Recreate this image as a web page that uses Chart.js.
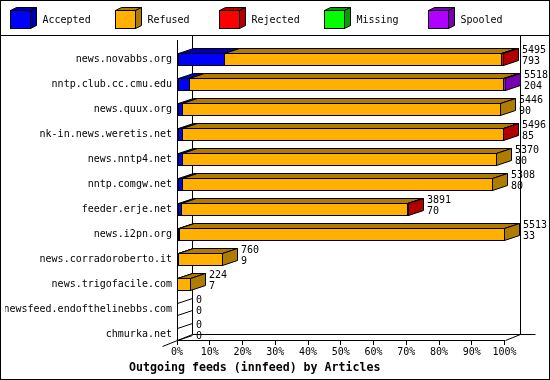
<!DOCTYPE html>
<html>
<head>
<meta charset="utf-8">
<script src="https://cdn.jsdelivr.net/npm/chart.js@4.4.1/dist/chart.umd.min.js"></script>
<style>
  html, body { margin: 0; padding: 0; background: #fff; }
  #wrap { width: 550px; height: 380px; }
</style>
</head>
<body>
<div id="wrap"><canvas id="feeds" width="550" height="380"></canvas></div>
<script>
// innfeed outgoing feeds, counted in articles
const hosts = [
    'news.novabbs.org', 'nntp.club.cc.cmu.edu', 'news.quux.org', 'nk-in.news.weretis.net',
    'news.nntp4.net', 'nntp.comgw.net', 'feeder.erje.net', 'news.i2pn.org',
    'news.corradoroberto.it', 'news.trigofacile.com', 'newsfeed.endofthelinebbs.com', 'chmurka.net'
];
const offered  = [5495, 5518, 5446, 5496, 5370, 5308, 3891, 5513, 760, 224, 0, 0];
const accepted = [793, 204, 90, 85, 80, 80, 70, 33, 9, 7, 0, 0];
const refused  = [4662, 5284, 5356, 5401, 5290, 5228, 3811, 5480, 751, 217, 0, 0];
const rejected = [40, 0, 0, 10, 0, 0, 10, 0, 0, 0, 0, 0];
const missing  = [0, 0, 0, 0, 0, 0, 0, 0, 0, 0, 0, 0];
const spooled  = [0, 30, 0, 0, 0, 0, 0, 0, 0, 0, 0, 0];
const seriesNames = ['Accepted', 'Refused', 'Rejected', 'Missing', 'Spooled'];
const xTicks = [0, 10, 20, 30, 40, 50, 60, 70, 80, 90, 100];

const frontColors = ['#0000ff', '#ffb000', '#ff0000', '#00ff00', '#b000ff'];
const sideColors  = ['#0000b0', '#b07c00', '#b00000', '#00a000', '#7800b0'];

const FONT = '"DejaVu Sans Mono", monospace';
const DX = 15, DY = 5, FDY = 6, SHIFT = 6.5, HALF = 6;

const maxOffered = Math.max(...offered);
const pct = arr => arr.map(v => v / maxOffered * 100);
const series = [accepted, refused, rejected, missing, spooled];

const px = v => Math.round(v) + 0.5;

function line(ctx, x1, y1, x2, y2) {
    ctx.beginPath();
    ctx.moveTo(x1, y1);
    ctx.lineTo(x2, y2);
    ctx.stroke();
}

function poly(ctx, pts, fill) {
    ctx.beginPath();
    ctx.moveTo(pts[0][0], pts[0][1]);
    pts.slice(1).forEach(p => ctx.lineTo(p[0], p[1]));
    ctx.closePath();
    ctx.fillStyle = fill;
    ctx.fill();
    ctx.stroke();
}

// 3D block: front rect + top face + optional side face
function block(ctx, x0, x1, yT, yB, dx, dy, front, dark, withSide) {
    poly(ctx, [[x0, yT], [x0 + dx, yT - dy], [x1 + dx, yT - dy], [x1, yT]], dark);
    if (withSide) {
        poly(ctx, [[x1, yT], [x1 + dx, yT - dy], [x1 + dx, yB - dy], [x1, yB]], dark);
    }
    ctx.fillStyle = front;
    ctx.fillRect(x0, yT, x1 - x0, yB - yT);
    ctx.strokeRect(x0, yT, x1 - x0, yB - yT);
}

const bars3d = {
    id: 'bars3d',
    beforeDraw(chart) {
        const ctx = chart.ctx;
        ctx.save();
        ctx.fillStyle = '#fff';
        ctx.fillRect(0, 0, chart.width, chart.height);
        ctx.restore();
    },
    beforeDatasetsDraw(chart) {
        const { ctx, chartArea: a, scales: { x } } = chart;
        ctx.save();
        ctx.strokeStyle = '#000';
        ctx.lineWidth = 1;

        // back plane and floor edges
        const L = px(a.left), B = px(a.bottom), R = px(x.getPixelForValue(100));
        line(ctx, L + DX, 36, L + DX, B - FDY);
        line(ctx, L + DX, B - FDY, R + 2 * DX, B - FDY);
        line(ctx, R + DX, 36, R + DX, B - FDY);
        line(ctx, L - DX, B + FDY, L + DX, B - FDY);
        line(ctx, R, B, R + DX, B - FDY);

        const metas = chart.data.datasets.map((d, i) => chart.getDatasetMeta(i));
        ctx.font = '10px ' + FONT;
        ctx.textBaseline = 'middle';
        ctx.textAlign = 'left';

        hosts.forEach((h, j) => {
            const yT = px(metas[0].data[j].y + SHIFT - HALF);
            const yB = yT + 2 * HALF;
            let last = -1;
            series.forEach((arr, i) => { if (arr[j] > 0) last = i; });
            let endX = L;
            if (last < 0) {
                line(ctx, L, yT, L + DX, yT - DY);
                line(ctx, L, yB, L + DX, yB - DY);
            } else {
                metas.forEach((m, i) => {
                    if (!(series[i][j] > 0)) return;
                    const el = m.data[j];
                    const x0 = px(el.base), x1 = px(el.x);
                    block(ctx, x0, x1, yT, yB, DX, DY, frontColors[i], sideColors[i], i === last);
                    endX = x1;
                });
            }
            ctx.fillStyle = '#000';
            ctx.fillText(String(offered[j]), endX + DX + 3.5, yT - 3);
            ctx.fillText(String(accepted[j]), endX + DX + 3.5, yT + 8);
        });
        ctx.restore();
        return false;
    },
    afterDraw(chart) {
        const ctx = chart.ctx;
        ctx.save();
        ctx.strokeStyle = '#000';
        ctx.lineWidth = 1;
        ctx.strokeRect(0.5, 0.5, chart.width - 1, chart.height - 1);
        line(ctx, 0, 35.5, chart.width, 35.5);

        // legend with cubes
        ctx.font = '10px ' + FONT;
        ctx.textBaseline = 'middle';
        ctx.textAlign = 'left';
        seriesNames.forEach((name, i) => {
            const lx = px(10 + i * 104.5);
            block(ctx, lx, lx + 20, 10.5, 28.5, 6, 3, frontColors[i], sideColors[i], true);
            ctx.fillStyle = '#000';
            ctx.fillText(name, lx + 32, 20.5);
        });
        ctx.restore();
    }
};

Chart.defaults.font.family = FONT;
Chart.defaults.color = '#000';

new Chart(document.getElementById('feeds'), {
    type: 'bar',
    data: {
        labels: hosts,
        datasets: series.map((arr, i) => ({
            label: seriesNames[i],
            data: pct(arr),
            backgroundColor: frontColors[i],
            barThickness: 12
        }))
    },
    options: {
        indexAxis: 'y',
        responsive: false,
        animation: false,
        devicePixelRatio: 1,
        layout: { padding: { top: 40, left: 5, right: 45.5, bottom: 5.08 } },
        plugins: {
            legend: { display: false },
            tooltip: { enabled: false },
            title: {
                display: true,
                position: 'bottom',
                text: 'Outgoing feeds (innfeed) by Articles',
                color: '#000',
                font: { family: FONT, size: 11.6, weight: 'bold', lineHeight: 1.2 },
                padding: { top: 1, bottom: 0 }
            }
        },
        scales: {
            x: {
                stacked: true,
                min: 0,
                max: 100,
                afterBuildTicks: s => { s.ticks = xTicks.map(v => ({ value: v })); },
                afterFit: s => { s.height = 20; },
                ticks: { font: { size: 10 }, padding: 1, maxRotation: 0, callback: v => v + '%' },
                grid: { drawOnChartArea: false, tickLength: 5, color: '#000' },
                border: { display: true, color: '#000' }
            },
            y: {
                stacked: true,
                afterFit: s => { s.width = 172; },
                ticks: { font: { size: 10 }, padding: 5, labelOffset: SHIFT },
                grid: { drawOnChartArea: false, drawTicks: false, color: '#000' },
                border: { display: true, color: '#000' }
            }
        }
    },
    plugins: [bars3d]
});
</script>
</body>
</html>
